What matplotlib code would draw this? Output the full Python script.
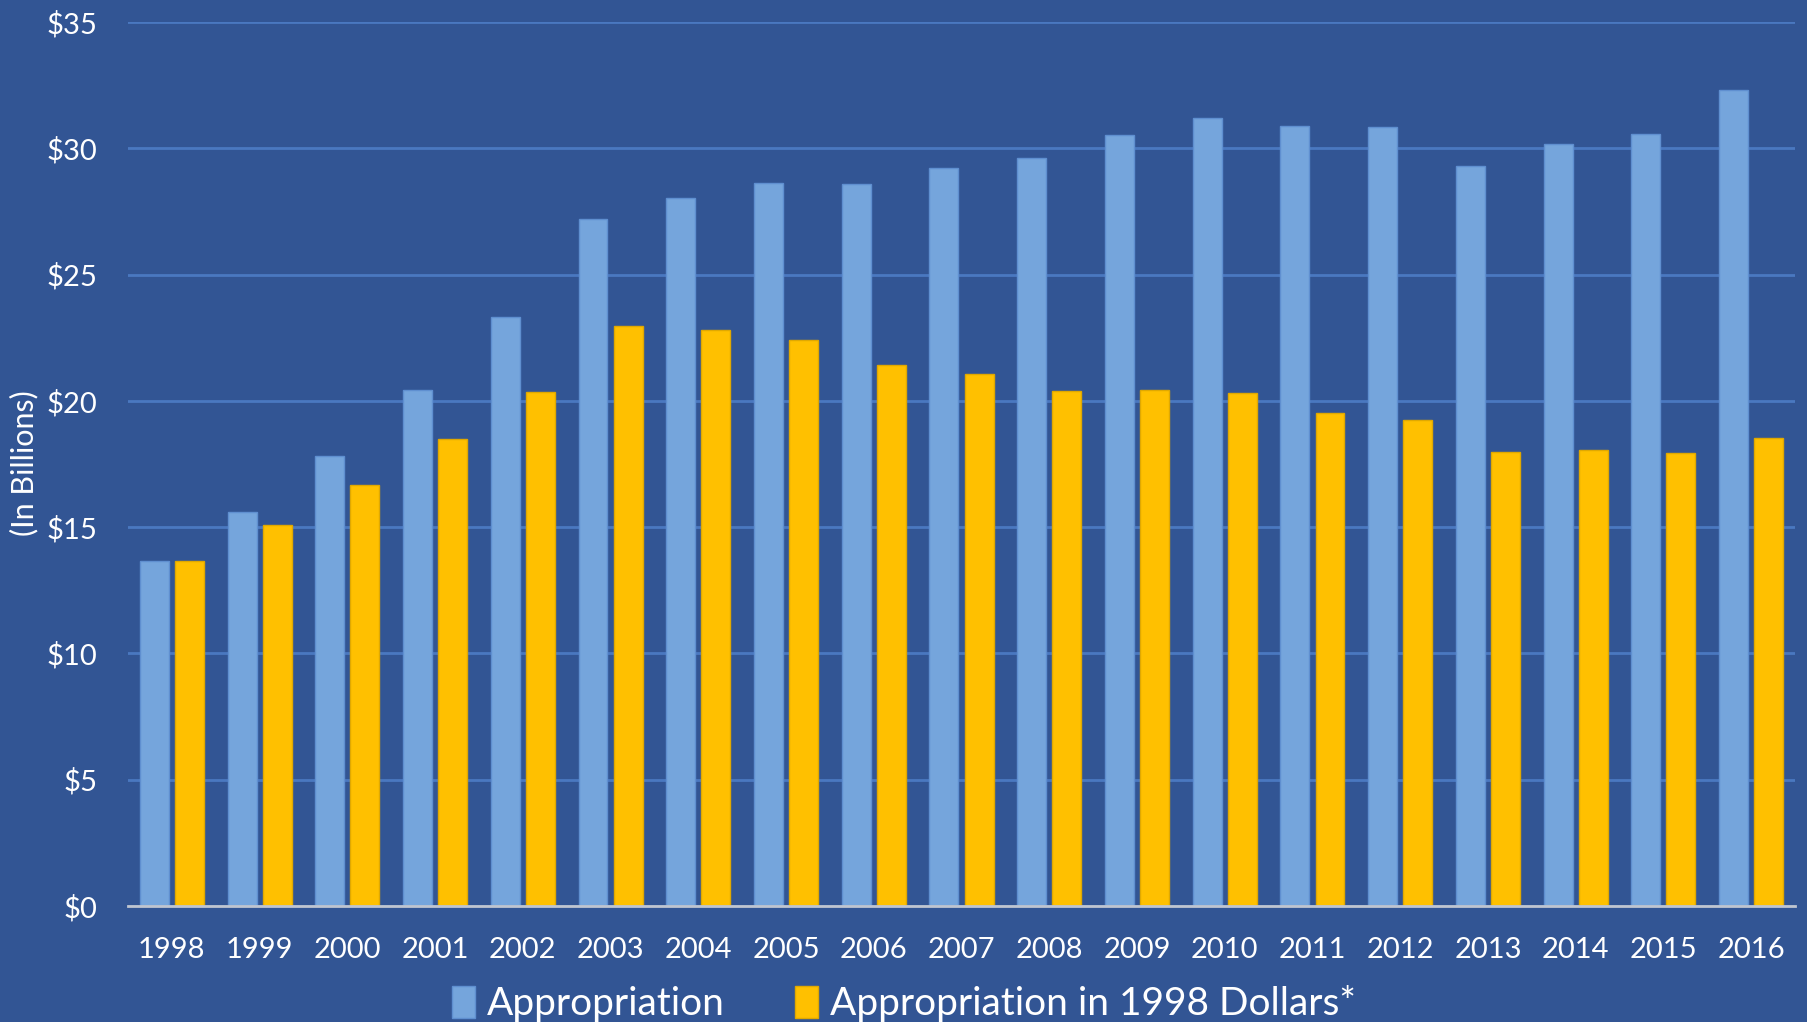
import numpy as np
import matplotlib.pyplot as plt

# Annual appropriation, nominal vs 1998 dollars (billions)
years = ["1998", "1999", "2000", "2001", "2002", "2003", "2004", "2005", "2006", "2007",
         "2008", "2009", "2010", "2011", "2012", "2013", "2014", "2015", "2016"]
appropriation = [13.64, 15.61, 17.80, 20.44, 23.32, 27.20, 28.02, 28.61, 28.57, 29.21,
                 29.62, 30.53, 31.21, 30.89, 30.85, 29.30, 30.16, 30.57, 32.31]
appropriation_1998 = [13.64, 15.10, 16.66, 18.48, 20.35, 22.95, 22.82, 22.41, 21.40, 21.08,
                      20.40, 20.44, 20.31, 19.53, 19.26, 17.98, 18.07, 17.93, 18.53]
y_ticks = [0, 5, 10, 15, 20, 25, 30, 35]

bg = "#325594"
plt.rcParams['font.family'] = ['Lato', 'DejaVu Sans']

fig = plt.figure(figsize=(18.08, 10.22), dpi=100, facecolor=bg)
ax = fig.add_axes([0.0708, 0.1135, 0.922, 0.865])
ax.set_facecolor(bg)

x = np.arange(len(years))
w = 0.33
ax.bar(x - 0.2, appropriation, w, color="#75A5DC", edgecolor="#5F8FD0", linewidth=1,
       label="Appropriation", zorder=3)
ax.bar(x + 0.2, appropriation_1998, w, color="#FFC000", edgecolor="#E0A800", linewidth=1,
       label="Appropriation in 1998 Dollars*", zorder=3)

ax.set_xlim(-0.5, len(years) - 0.5)
ax.set_ylim(0, 35)
ax.set_yticks(y_ticks)
ax.set_yticklabels([f"${v}" for v in y_ticks])
ax.set_xticks(x)
ax.set_xticklabels(years)
ax.tick_params(axis="y", length=0, pad=22, labelsize=21, labelcolor="white")
ax.tick_params(axis="x", length=0, pad=22, labelsize=21, labelcolor="white")

ax.grid(axis="y", color="#4A78C0", linewidth=2, zorder=0)
ax.set_axisbelow(True)
for s in ["top", "right", "left"]:
    ax.spines[s].set_visible(False)
ax.spines["bottom"].set_color("#BFC5D0")
ax.spines["bottom"].set_linewidth(2)
ax.spines["bottom"].set_zorder(4)

fig.text(0.0135, 0.547, "(In Billions)", rotation=90, ha="center", va="center",
         color="white", fontsize=22)

leg = fig.legend(loc="center", bbox_to_anchor=(0.5, 0.018), ncol=2, frameon=False,
                 fontsize=28, labelcolor="white", handlelength=0.6, handleheight=0.9,
                 handletextpad=0.3, columnspacing=1.8)

fig.savefig("out.png", dpi=100, facecolor=bg)
